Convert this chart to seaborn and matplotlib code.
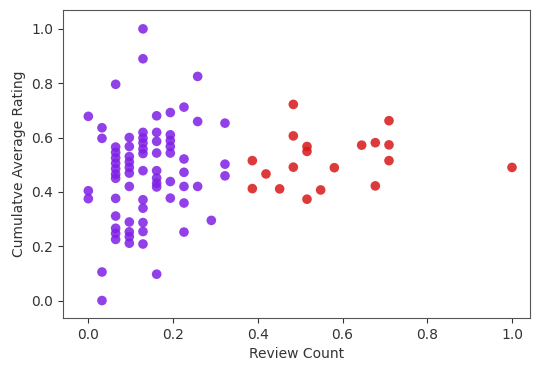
import numpy as np
import pandas as pd
import matplotlib
matplotlib.use("Agg")
import matplotlib.pyplot as plt
import seaborn as sns

# Review counts are stored as raw counts (max = 31) and normalised below.
low_counts = (
    [0] * 3 + [1] * 4 + [2] * 13 + [3] * 11 + [4] * 13 + [5] * 9
    + [6] * 7 + [7] * 6 + [8] * 3 + [9] * 1 + [10] * 3
)
low_ratings = [
    0.678, 0.404, 0.375,
    0.636, 0.597, 0.105, 0.0,
    0.796, 0.565, 0.545, 0.525, 0.505, 0.485, 0.465, 0.450, 0.376, 0.311, 0.266, 0.247, 0.225,
    0.600, 0.567, 0.530, 0.510, 0.490, 0.469, 0.420, 0.289, 0.253, 0.235, 0.211,
    1.0, 0.890, 0.619, 0.598, 0.580, 0.558, 0.478, 0.371, 0.340, 0.287, 0.254, 0.208, 0.541,
    0.680, 0.619, 0.586, 0.543, 0.478, 0.451, 0.432, 0.418, 0.097,
    0.692, 0.610, 0.589, 0.567, 0.543, 0.438, 0.377,
    0.712, 0.521, 0.472, 0.420, 0.359, 0.252,
    0.825, 0.659, 0.420,
    0.295,
    0.653, 0.502, 0.459,
]

high_counts = [12, 12, 13, 14, 15, 15, 15, 16, 16, 16, 17, 18, 20, 21, 21, 22, 22, 22, 31]
high_ratings = [
    0.515, 0.412,
    0.466,
    0.411,
    0.722, 0.606, 0.491,
    0.567, 0.549, 0.373,
    0.407,
    0.489,
    0.572,
    0.581, 0.422,
    0.662, 0.573, 0.515,
    0.490,
]

max_count = 31

df = pd.DataFrame({
    "Review Count": np.array(low_counts + high_counts) / max_count,
    "Cumulatve Average Rating": low_ratings + high_ratings,
    "cluster": ["low"] * len(low_counts) + ["high"] * len(high_counts),
})

sns.set_style("ticks")
plt.rcParams["font.family"] = ["DejaVu Sans"]

fig = plt.figure(figsize=(5.33, 3.65), dpi=100)
ax = fig.add_axes([0.118, 0.129, 0.876, 0.844])

sns.scatterplot(
    data=df, x="Review Count", y="Cumulatve Average Rating", hue="cluster",
    palette={"low": "#7f1fe6", "high": "#d81818"},
    s=48, linewidth=0, alpha=0.85, legend=False, ax=ax,
)

ax.set_xlim(-0.06, 1.042)
ax.set_ylim(-0.064, 1.07)
ax.set_xticks([0.0, 0.2, 0.4, 0.6, 0.8, 1.0])
ax.set_yticks([0.0, 0.2, 0.4, 0.6, 0.8, 1.0])
ax.tick_params(labelsize=10, colors="#333333")
ax.xaxis.label.set_color("#333333")
ax.yaxis.label.set_color("#333333")
ax.xaxis.label.set_size(10)
ax.yaxis.label.set_size(10)
for sp in ax.spines.values():
    sp.set_color("#555555")

fig.savefig("out.png", dpi=100)
